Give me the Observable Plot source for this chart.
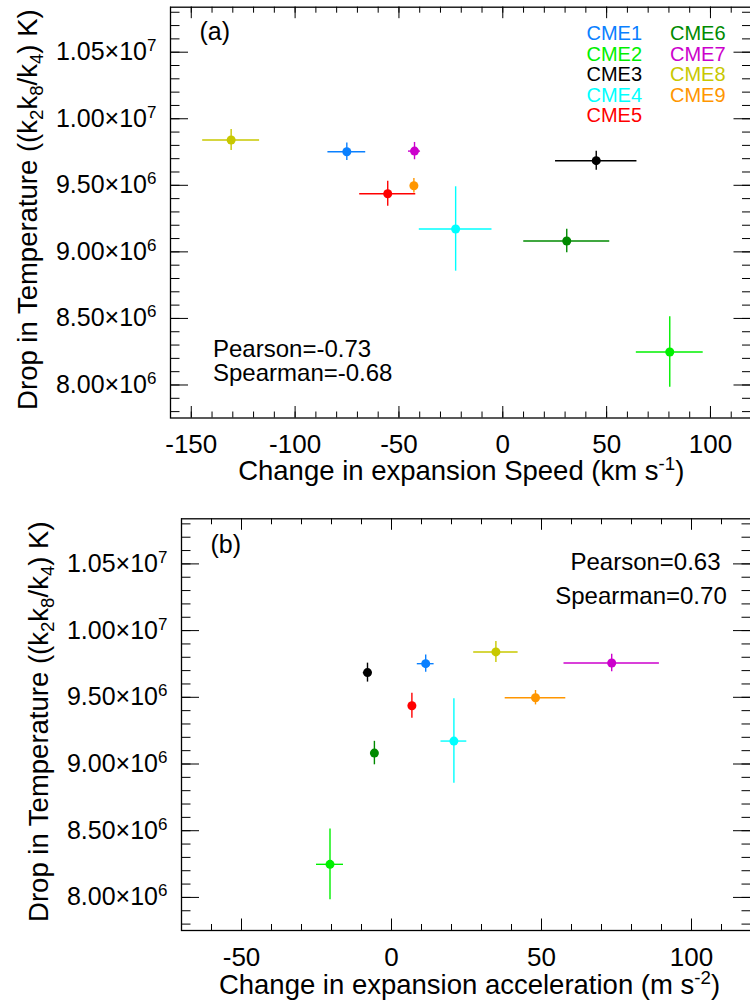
<!DOCTYPE html>
<html>
<head>
<meta charset="utf-8">
<script src="https://cdn.jsdelivr.net/npm/d3@7"></script>
<script src="https://cdn.jsdelivr.net/npm/@observablehq/plot@0.6"></script>
<style>
  html, body { margin: 0; padding: 0; background: #fff; overflow: hidden; }
  #chart svg { display: block; }
</style>
</head>
<body>
<div id="chart"></div>
<script>
// ---------------- data ----------------
const cmeNames  = ["CME1", "CME2", "CME3", "CME4", "CME5", "CME6", "CME7", "CME8", "CME9"];
const cmeColors = ["#0a80ff", "#00f000", "#000000", "#00ffff", "#ff0000", "#008a00", "#cc00cc", "#c8c800", "#ff9600"];

// Drop in temperature (K) and its error, shared by both panels
const tempDrop = [9.752e6, 8.248e6, 9.685e6, 9.172e6, 9.437e6, 9.082e6, 9.757e6, 9.840e6, 9.497e6];
const tempErr  = [0.065e6, 0.265e6, 0.071e6, 0.317e6, 0.094e6, 0.088e6, 0.065e6, 0.079e6, 0.054e6];

// panel (a): change in expansion speed (km/s)
const speedChange = [-75.1, 80.4, 45.0, -22.7, -55.4, 30.8, -42.5, -130.8, -42.8];
const speedErr    = [9.1, 16.1, 19.6, 17.5, 13.5, 20.7, 2.9, 13.7, 1.5];

// panel (b): change in expansion acceleration (m/s^2)
const accelChange = [11.4, -20.5, -8.0, 20.8, 6.8, -5.7, 73.4, 34.8, 48.0];
const accelErr    = [2.8, 4.5, 1.4, 4.3, 0.9, 0.5, 15.9, 7.4, 10.1];

// ticks and labels
const speedTicks = [-150, -100, -50, 0, 50, 100];
const accelTicks = [-50, 0, 50, 100];
const tempTicks  = [8.0e6, 8.5e6, 9.0e6, 9.5e6, 1.0e7, 1.05e7];
const tempTickLabels = ["8.00×10^{6}", "8.50×10^{6}", "9.00×10^{6}", "9.50×10^{6}", "1.00×10^{7}", "1.05×10^{7}"];

const yTitle  = "Drop in Temperature ((k_{2}k_{8}/k_{4}) K)";
const xTitleA = "Change in expansion Speed (km s^{-1})";
const xTitleB = "Change in expansion acceleration (m s^{-2})";
const statsA = ["Pearson=-0.73", "Spearman=-0.68"];
const statsB = ["Pearson=0.63", "Spearman=0.70"];

// ---------------- helpers ----------------
const FONT = "'Liberation Sans', Arial, Helvetica, sans-serif";
const tempDomain = [7.752e6, 1.0838e7];
const tempMinor = d3.range(78, 109, 1).map(v => v * 1e5).filter(v => v <= tempDomain[1]);

function panel(cfg) {
  const W = 750;
  const plotW = W - cfg.marginLeft - cfg.marginRight;
  const plotH = cfg.height - cfg.marginTop - cfg.marginBottom;
  const rows = cmeNames.map((name, i) => ({
    name, color: cmeColors[i], x: cfg.xVals[i], ex: cfg.xErr[i], y: tempDrop[i], ey: tempErr[i]
  }));
  const marks = [
    // inward ticks (IDL style) on all four sides
    Plot.tickX(cfg.xMinor, {x: d => d, insetTop: plotH - 6, stroke: "#000"}),
    Plot.tickX(cfg.xMinor, {x: d => d, insetBottom: plotH - 6, stroke: "#000"}),
    Plot.tickX(cfg.xMajor, {x: d => d, insetTop: plotH - 11.5, stroke: "#000"}),
    Plot.tickX(cfg.xMajor, {x: d => d, insetBottom: plotH - 11.5, stroke: "#000"}),
    Plot.tickY(tempMinor, {y: d => d, insetRight: plotW - 9.5, stroke: "#000"}),
    Plot.tickY(tempMinor, {y: d => d, insetLeft: plotW - 9.5, stroke: "#000"}),
    Plot.tickY(tempTicks, {y: d => d, insetRight: plotW - 18, stroke: "#000"}),
    Plot.tickY(tempTicks, {y: d => d, insetLeft: plotW - 18, stroke: "#000"}),
    Plot.frame({stroke: "#000", strokeWidth: 1.3}),
    // tick labels
    Plot.axisX(cfg.xMajor, {tickSize: 0, tickPadding: 17, fontSize: 26, label: null, tickFormat: d => String(d)}),
    Plot.axisY(tempTicks, {tickSize: 0, tickPadding: 14, fontSize: 25, label: null,
      tickFormat: d => tempTickLabels[tempTicks.indexOf(d)]}),
    // axis titles
    Plot.text([cfg.xTitle], {text: d => d, frameAnchor: "bottom", lineAnchor: "middle", textAnchor: "middle",
      dy: cfg.xTitleDy, dx: cfg.xTitleDx, fontSize: 27.5}),
    Plot.text([yTitle], {text: d => d, frameAnchor: "left", lineAnchor: "middle", textAnchor: "middle",
      rotate: -90, dx: -142, dy: -3, fontSize: 27.5}),
    // panel tag
    Plot.text([cfg.tag], {text: d => d, frameAnchor: "top-left", lineAnchor: "middle", textAnchor: "start",
      dx: 29, dy: cfg.tagDy, fontSize: 25}),
    // error bars
    Plot.ruleY(rows, {y: "y", x1: d => d.x - d.ex, x2: d => d.x + d.ex, stroke: "color", strokeWidth: 1.4}),
    Plot.ruleX(rows, {x: "x", y1: d => d.y - d.ey, y2: d => d.y + d.ey, stroke: "color", strokeWidth: 1.4}),
    Plot.dot(rows, {x: "x", y: "y", r: 4.5, fill: "color", stroke: null})
  ];
  return Plot.plot({
    width: W,
    height: cfg.height,
    marginLeft: cfg.marginLeft,
    marginRight: cfg.marginRight,
    marginTop: cfg.marginTop,
    marginBottom: cfg.marginBottom,
    x: {domain: cfg.xDomain},
    y: {domain: tempDomain},
    color: {type: "identity"},
    style: {fontFamily: FONT, background: "#fff", color: "#000"},
    marks: marks.concat(cfg.extra)
  });
}

// legend entries for panel (a): two columns
const legendMarks = cmeNames.map((name, i) => Plot.text([name], {
  text: d => d,
  frameAnchor: "top-left",
  lineAnchor: "middle",
  textAnchor: "start",
  dx: i < 5 ? 416 : 499.5,
  dy: 26.4 + 20.5 * (i % 5),
  fill: cmeColors[i],
  fontSize: 20
}));

const statMarksA = statsA.map((s, i) => Plot.text([s], {
  text: d => d, frameAnchor: "bottom-left", lineAnchor: "middle", textAnchor: "start",
  dx: 42.5, dy: i === 0 ? -68.5 : -44.2, fontSize: 24
}));
const statMarksB = statsB.map((s, i) => Plot.text([s], {
  text: d => d, frameAnchor: "top-left", lineAnchor: "middle", textAnchor: "middle",
  dx: i === 0 ? 464 : 459.5, dy: i === 0 ? 44 : 78, fontSize: 24
}));

const chartA = panel({
  height: 500, marginLeft: 170, marginRight: -1.5, marginTop: 6.7, marginBottom: 82.5,
  xDomain: [-160, 120], xMajor: speedTicks, xMinor: d3.range(-160, 121, 10),
  xVals: speedChange, xErr: speedErr, xTitle: xTitleA, xTitleDy: 53, xTitleDx: 0,
  tag: "(a)", tagDy: 25, extra: legendMarks.concat(statMarksA)
});
const chartB = panel({
  height: 505, marginLeft: 181, marginRight: -1, marginTop: 18.3, marginBottom: 75,
  xDomain: [-70, 120], xMajor: accelTicks, xMinor: d3.range(-70, 121, 10),
  xVals: accelChange, xErr: accelErr, xTitle: xTitleB, xTitleDy: 55, xTitleDx: 3,
  tag: "(b)", tagDy: 26.5, extra: statMarksB
});

const root = document.getElementById("chart");
root.appendChild(chartA);
root.appendChild(chartB);

// ---------------- rich text (sub/superscripts) ----------------
function richify(svg) {
  const ns = "http://www.w3.org/2000/svg";
  d3.select(svg).selectAll("text").each(function() {
    const s = this.textContent;
    if (!/[_^]\{/.test(s)) return;
    const fs = parseFloat(getComputedStyle(this).fontSize) || 25;
    const re = /([_^])\{([^}]*)\}/g;
    const parts = [];
    let last = 0, m;
    while ((m = re.exec(s))) {
      if (m.index > last) parts.push({type: null, text: s.slice(last, m.index)});
      parts.push({type: m[1], text: m[2]});
      last = re.lastIndex;
    }
    if (last < s.length) parts.push({type: null, text: s.slice(last)});
    while (this.firstChild) this.removeChild(this.firstChild);
    let shift = 0;
    for (const p of parts) {
      const t = document.createElementNS(ns, "tspan");
      const target = p.type === "^" ? -0.36 * fs : p.type === "_" ? 0.2 * fs : 0;
      if (target - shift !== 0) t.setAttribute("dy", (target - shift).toFixed(2));
      shift = target;
      if (p.type) t.setAttribute("font-size", (0.68 * fs).toFixed(2));
      t.textContent = p.text;
      this.appendChild(t);
    }
  });
}
richify(chartA);
richify(chartB);
</script>
</body>
</html>
